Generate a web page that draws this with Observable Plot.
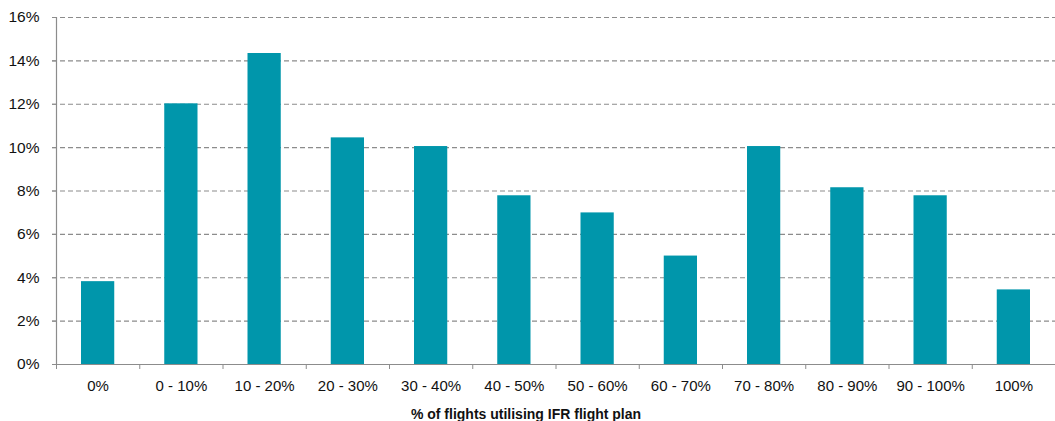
<!DOCTYPE html>
<html>
<head>
<meta charset="utf-8">
<script src="https://cdn.jsdelivr.net/npm/d3@7"></script>
<script src="https://cdn.jsdelivr.net/npm/@observablehq/plot@0.6"></script>
<style>
  html, body { margin: 0; padding: 0; background: #fff; }
  #chart svg { display: block; }
</style>
</head>
<body>
<div id="chart"></div>
<script>
const categories = ["0%", "0 - 10%", "10 - 20%", "20 - 30%", "30 - 40%", "40 - 50%", "50 - 60%", "60 - 70%", "70 - 80%", "80 - 90%", "90 - 100%", "100%"];
const shares = [3.82, 12.02, 14.34, 10.45, 10.05, 7.78, 6.99, 5.0, 10.05, 8.15, 7.78, 3.44];
const yTicks = [0, 2, 4, 6, 8, 10, 12, 14, 16];
const xTitle = "% of flights utilising IFR flight plan";

const data = categories.map((c, i) => ({ i, c, v: shares[i] }));
const font = "'Liberation Sans', Arial, sans-serif";
const axisColor = "#8c8c8c";

const chart = Plot.plot({
  width: 1055,
  height: 421,
  marginLeft: 56,
  marginRight: 0,
  marginTop: 17,
  marginBottom: 57,
  style: { fontFamily: font, fontSize: "15px", color: "#111", background: "#fff" },
  x: { type: "linear", domain: [0, categories.length] },
  y: { domain: [0, 16] },
  marks: [
    Plot.gridY(yTicks.filter(d => d > 0), { stroke: axisColor, strokeOpacity: 1, strokeDasharray: "5,3", strokeWidth: 1.2, insetLeft: -4 }),
    Plot.rectY(data, { x1: "i", x2: d => d.i + 1, y: "v", fill: "#0096AB", insetLeft: 25, insetRight: 25 }),
    Plot.ruleX([0], { y1: 0, y2: 16, stroke: axisColor, strokeWidth: 1.2 }),
    Plot.ruleY([0], { stroke: axisColor, strokeWidth: 1.2, insetLeft: -4 }),
    Plot.axisY({ ticks: yTicks, tickFormat: d => d + "%", tickSize: 4, tickPadding: 13, stroke: axisColor, label: null, fontSize: 15.5 }),
    Plot.axisX({ ticks: d3.range(0, categories.length + 1), tickFormat: () => "", tickSize: 5, stroke: axisColor, label: null }),
    Plot.axisX({ ticks: d3.range(categories.length).map(i => i + 0.5), tickFormat: d => categories[Math.floor(d)], tickSize: 0, tickPadding: 16, label: null, fontSize: 15 }),
    Plot.text([xTitle], { x: categories.length / 2, frameAnchor: "bottom", dy: 54, dx: -30, text: d => d, fontWeight: "bold", fontSize: 14, fill: "#111" })
  ]
});

document.getElementById("chart").appendChild(chart);
</script>
</body>
</html>
